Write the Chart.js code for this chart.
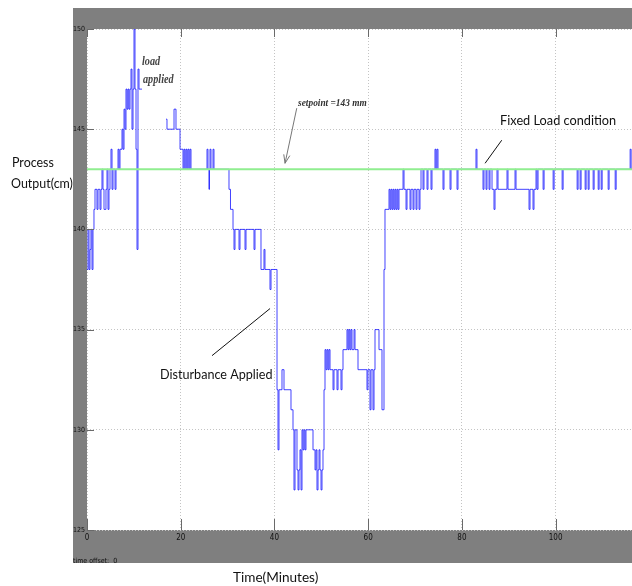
<!DOCTYPE html>
<html>
<head>
<meta charset="utf-8">
<script src="https://cdn.jsdelivr.net/npm/chart.js@4.4.1/dist/chart.umd.min.js"></script>
<style>
body{margin:0;background:#fff;}
canvas{display:block;}
</style>
</head>
<body>
<canvas id="myChart" width="632" height="586"></canvas>
<script>
// time in minutes / process output (stepped signal)
var timeMin = [
  0,0.21,0.43,0.64,0.85,1.07,1.28,1.49,1.71,2.13,
  2.35,2.77,2.99,3.20,3.41,3.63,4.05,4.27,4.48,4.69,
  4.91,5.12,5.34,5.55,5.98,6.19,6.62,6.83,7.04,7.47,
  7.68,7.90,8.11,8.32,8.54,8.75,8.96,9.18,9.39,9.60,
  9.82,10.03,10.24,10.46,10.67,10.88,11.10,11.74,11.80,16.86,17.07,
  18.57,18.99,19.85,20.49,20.70,20.91,21.13,21.34,21.55,21.77,
  21.98,22.19,25.61,25.82,26.03,26.14,26.25,26.46,26.89,27.10,
  30.30,30.62,31.16,31.37,31.58,32.44,32.65,33.72,33.93,35.64,
  35.85,37.13,37.77,37.98,39.05,39.27,40.55,40.76,40.97,41.61,
  42.04,43.53,43.96,44.17,44.39,44.81,45.03,45.24,45.45,45.67,
  45.88,46.09,46.31,46.52,46.73,48.23,48.66,48.87,49.08,49.30,
  49.51,49.72,49.94,50.15,50.36,50.58,50.79,51.00,51.22,51.43,
  51.64,51.86,52.50,52.71,53.35,53.57,54.20,54.42,54.63,55.48,
  55.70,55.91,56.12,56.34,56.55,56.98,57.19,57.83,59.75,59.96,
  60.39,60.61,61.03,61.25,61.46,62.31,62.95,63.38,63.59,64.45,
  64.66,64.87,65.09,65.30,65.51,65.73,65.94,66.16,66.37,66.58,
  67.44,67.65,68.08,68.29,68.93,69.14,69.57,69.78,70.21,70.42,
  70.85,71.06,71.28,71.70,71.91,72.56,72.77,73.41,73.62,74.26,
  74.47,74.68,74.90,75.97,76.18,77.47,77.68,78.96,79.17,83.01,
  83.22,84.51,84.72,85.15,85.36,85.79,86.00,86.43,86.85,87.07,
  87.49,87.71,89.63,89.84,91.34,91.55,94.33,94.54,95.18,95.39,
  95.82,96.03,96.25,97.33,97.54,99.47,99.68,101.39,101.60,104.59,
  104.80,105.23,105.44,106.30,106.51,106.94,107.15,108.01,108.22,109.08,
  109.29,109.72,109.93,111.21,111.42,112.71,112.92,115.90,116.11,116.3
];
var outputCm = [
  138,140,138,139,140,138,140,141,142,141,
  142,141,142,143,142,141,142,143,141,142,
  143,144,142,143,142,143,144,143,144,145,
  144,146,145,147,146,147,146,147,148,145,
  147,150,147,144,139,148,147,147,null,145.5,145,
  146,145,144,143,144,143,144,143,144,143,
  144,143,144,143,142,143,144,143,144,143,
  142,141,140,139,140,139,140,139,140,139,
  140,138,139,138,137,138,132,129,132,133,
  132,131,130,127,130,128,127,128,129,127,
  130,129,130,129,130,129,128,129,127,128,
  129,128,127,128,129,132,134,133,134,133,
  134,133,132,133,132,133,132,133,134,135,
  134,135,134,135,134,135,134,133,132,133,
  131,133,131,133,135,134,131,138,141,142,
  141,142,141,142,141,142,141,142,141,142,
  143,142,141,142,141,142,141,142,141,142,
  141,142,143,142,143,142,143,142,143,144,
  143,144,143,142,143,142,143,142,143,144,
  143,142,143,142,143,142,143,142,141,142,
  143,142,143,142,143,142,141,142,141,142,
  143,142,143,142,143,142,143,142,143,142,
  143,142,143,142,143,142,143,142,143,142,
  143,142,143,142,143,142,143,144,143,143
];
var setpointCm = 143;
var xTickValues = [0, 20, 40, 60, 80, 100];
var yTickValues = [125, 130, 135, 140, 145, 150];
var xMin = 0, xMax = 116.3, yMin = 125, yMax = 150;

var processPoints = timeMin.map(function(t, i){ return {x: t, y: outputCm[i]}; });
var setpointPoints = [{x: xMin, y: setpointCm}, {x: xMax, y: setpointCm}];

var sansFont = 'Lato, "Open Sans", sans-serif';
var serifFont = '"Liberation Serif", serif';
var tickFont = '"Liberation Sans Narrow", "DejaVu Sans Condensed", sans-serif';

function drawText(ctx, text, x, y, font, color, sx){
  ctx.save();
  ctx.font = font;
  ctx.fillStyle = color;
  ctx.textAlign = 'left';
  ctx.textBaseline = 'middle';
  ctx.translate(x, y);
  ctx.scale(sx || 1, 1);
  ctx.fillText(text, 0, 0);
  ctx.restore();
}

function drawLine(ctx, x1, y1, x2, y2, color, arrow){
  ctx.save();
  ctx.strokeStyle = color;
  ctx.lineWidth = 1;
  ctx.beginPath();
  ctx.moveTo(x1, y1);
  ctx.lineTo(x2, y2);
  if (arrow) {
    var ang = Math.atan2(y2 - y1, x2 - x1);
    for (var k = -1; k <= 1; k += 2) {
      ctx.moveTo(x2, y2);
      ctx.lineTo(x2 - 9 * Math.cos(ang + k * 0.35), y2 - 9 * Math.sin(ang + k * 0.35));
    }
  }
  ctx.stroke();
  ctx.restore();
}

var framePlugin = {
  id: 'frame',
  beforeDraw: function(chart){
    var ctx = chart.ctx, a = chart.chartArea;
    ctx.save();
    ctx.fillStyle = '#ffffff';
    ctx.fillRect(0, 0, chart.width, chart.height);
    ctx.fillStyle = '#7f7f7f';
    ctx.fillRect(a.left - 14, a.top - 21, chart.width - a.left + 14, a.bottom - a.top + 54);
    ctx.fillStyle = '#ffffff';
    ctx.fillRect(a.left, a.top, a.right - a.left, a.bottom - a.top);
    ctx.restore();
  },
  afterDraw: function(chart){
    var ctx = chart.ctx, a = chart.chartArea;
    var xs = chart.scales.x, ys = chart.scales.y;
    // small inner tick marks
    ctx.save();
    ctx.strokeStyle = '#6a6a6a';
    ctx.lineWidth = 1;
    ctx.beginPath();
    xTickValues.forEach(function(v){
      var px = Math.round(xs.getPixelForValue(v)) + 0.5;
      ctx.moveTo(px, a.bottom); ctx.lineTo(px, a.bottom - 11);
      ctx.moveTo(px, a.top); ctx.lineTo(px, a.top + 8);
    });
    yTickValues.forEach(function(v){
      var py = Math.round(ys.getPixelForValue(v)) + 0.5;
      ctx.moveTo(a.left, py); ctx.lineTo(a.left + 7, py);
    });
    ctx.stroke();
    ctx.restore();

    // annotations
    function P(t, v){ return [xs.getPixelForValue(t), ys.getPixelForValue(v)]; }
    var p1 = P(39.06, 136.05), p2 = P(26.68, 133.7);
    drawLine(ctx, p1[0], p1[1], p2[0], p2[1], '#111', false);
    var s1 = P(44.76, 146.05), s2 = P(42.26, 143.3);
    drawLine(ctx, s1[0], s1[1], s2[0], s2[1], '#777', true);
    var f1 = P(88.5, 144.45), f2 = P(84.95, 143.3);
    drawLine(ctx, f1[0], f1[1], f2[0], f2[1], '#111', false);

    var d = P(15.58, 132.75);
    drawText(ctx, 'Disturbance Applied', d[0], d[1], '14px ' + sansFont, '#111', 0.9);
    var fl = P(88.15, 145.45);
    drawText(ctx, 'Fixed Load condition', fl[0], fl[1], '14px ' + sansFont, '#111', 0.91);
    var sp = P(45.04, 146.3);
    drawText(ctx, 'setpoint =143 mm', sp[0], sp[1], 'italic bold 11px ' + serifFont, '#333', 0.85);
    var la = P(11.74, 148.35);
    drawText(ctx, 'load', la[0], la[1], 'italic bold 12px ' + serifFont, '#444', 0.85);
    var lb = P(11.95, 147.45);
    drawText(ctx, 'applied', lb[0], lb[1], 'italic bold 12px ' + serifFont, '#444', 0.85);

    // axis titles
    drawText(ctx, 'Process', 12, 162, '14px ' + sansFont, '#111', 0.89);
    drawText(ctx, 'Output(cm)', 11, 183, '14px ' + sansFont, '#111', 0.89);
    drawText(ctx, 'Time(Minutes)', 233, 577, '14px ' + sansFont, '#111', 0.97);
    drawText(ctx, 'time offset:  0', a.left - 14, a.bottom + 31, '7px ' + tickFont, '#111', 1);
  }
};

var myChart = document.getElementById('myChart').getContext('2d');
var ProcessChart = new Chart(myChart, {
  type: 'line',
  data: {
    datasets: [{
      label: 'Setpoint',
      data: setpointPoints,
      borderColor: '#90ee90',
      borderWidth: 2,
      pointRadius: 0,
      order: 0
    }, {
      label: 'Process output',
      data: processPoints,
      borderColor: 'rgba(20,20,255,0.8)',
      borderWidth: 1,
      pointRadius: 0,
      stepped: true,
      spanGaps: false,
      order: 1
    }]
  },
  options: {
    responsive: false,
    devicePixelRatio: 1,
    animation: false,
    layout: { padding: { left: 73, top: 29, right: 0, bottom: 23 } },
    plugins: {
      legend: { display: false },
      tooltip: { enabled: false }
    },
    scales: {
      x: {
        type: 'linear',
        min: xMin,
        max: xMax,
        afterBuildTicks: function(s){ s.ticks = xTickValues.map(function(v){ return {value: v}; }); },
        afterFit: function(s){ s.height = 33; },
        grid: { color: '#c4c4c4', drawTicks: false },
        border: { display: false, dash: [1, 2] },
        ticks: { padding: 3, color: '#111', font: { family: tickFont, size: 8 } }
      },
      y: {
        type: 'linear',
        min: yMin,
        max: yMax,
        afterBuildTicks: function(s){ s.ticks = yTickValues.map(function(v){ return {value: v}; }); },
        afterFit: function(s){ s.width = 14; },
        grid: { color: '#c4c4c4', drawTicks: false },
        border: { display: false, dash: [1, 2] },
        ticks: { padding: 2, color: '#111', font: { family: tickFont, size: 7 } }
      }
    }
  },
  plugins: [framePlugin]
});
</script>
</body>
</html>
